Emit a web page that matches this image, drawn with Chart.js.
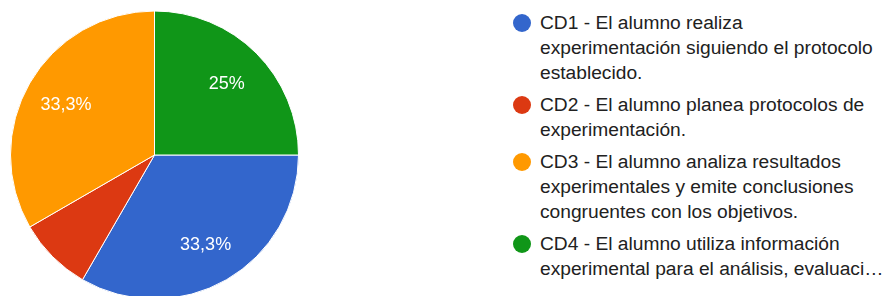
<!DOCTYPE html>
<html>
<head>
<meta charset="utf-8">
<script src="https://cdn.jsdelivr.net/npm/chart.js@4"></script>
<style>
  html, body { margin: 0; padding: 0; background: #fff; width: 888px; height: 296px; overflow: hidden; }
  #pieBox { position: absolute; left: 0; top: 0; width: 309px; height: 310px; }
  #legend { position: absolute; left: 513px; top: 10px; font-family: "Liberation Sans", Arial, sans-serif; font-size: 19.2px; color: #212121; }
  .item { position: relative; padding-left: 27px; line-height: 25px; margin-bottom: 7px; white-space: nowrap; }
  .dot { position: absolute; left: 0; top: 3.5px; width: 18px; height: 18px; border-radius: 50%; }
</style>
</head>
<body>
<div id="pieBox"><canvas id="pie"></canvas></div>
<div id="legend"></div>
<script>
const labels = [
  ["CD1 - El alumno realiza", "experimentación siguiendo el protocolo", "establecido."],
  ["CD2 - El alumno planea protocolos de", "experimentación."],
  ["CD3 - El alumno analiza resultados", "experimentales y emite conclusiones", "congruentes con los objetivos."],
  ["CD4 - El alumno utiliza información", "experimental para el análisis, evaluaci…"],
];
const counts = [4, 1, 4, 3];
const colors = ["#3366cc", "#dc3912", "#ff9900", "#109618"];

// percentage labels inside slices, Google style
const sliceLabels = {
  id: "sliceLabels",
  afterDatasetsDraw(chart) {
    const ctx = chart.ctx;
    const meta = chart.getDatasetMeta(0);
    const total = counts.reduce((a, b) => a + b, 0);
    ctx.save();
    ctx.fillStyle = "#fff";
    ctx.font = '18px "Liberation Sans", Arial, sans-serif';
    ctx.textAlign = "center";
    ctx.textBaseline = "middle";
    meta.data.forEach((arc, i) => {
      const pct = counts[i] / total * 100;
      if (pct < 10) return;
      const mid = (arc.startAngle + arc.endAngle) / 2;
      const r = arc.outerRadius * 0.71;
      const x = arc.x + Math.cos(mid) * r;
      const y = arc.y + Math.sin(mid) * r + 1.5;
      const txt = (Math.round(pct * 10) / 10).toString().replace(".", ",") + "%";
      ctx.fillText(txt, x, y);
    });
    ctx.restore();
  }
};

new Chart(document.getElementById("pie"), {
  type: "pie",
  data: {
    labels: labels.map(l => l.join(" ")),
    datasets: [{
      data: counts,
      backgroundColor: colors,
      borderColor: "#fff",
      borderWidth: 1,
    }],
  },
  options: {
    responsive: true,
    maintainAspectRatio: false,
    animation: false,
    rotation: 90,
    layout: { padding: 10 },
    plugins: {
      legend: { display: false },
      tooltip: { enabled: false },
    },
  },
  plugins: [sliceLabels],
});

const legend = document.getElementById("legend");
labels.forEach((lines, i) => {
  const item = document.createElement("div");
  item.className = "item";
  const dot = document.createElement("span");
  dot.className = "dot";
  dot.style.background = colors[i];
  item.appendChild(dot);
  lines.forEach((t, j) => {
    if (j) item.appendChild(document.createElement("br"));
    item.appendChild(document.createTextNode(t));
  });
  legend.appendChild(item);
});
</script>
</body>
</html>
